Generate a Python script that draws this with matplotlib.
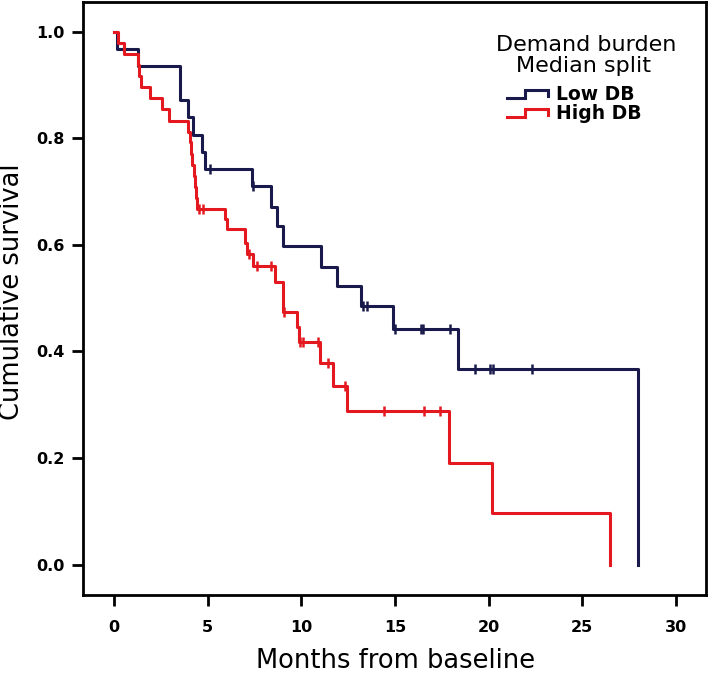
"""
Kaplan-Meier: выживаемость по demand burden (медианное разбиение)
"""

import numpy as np
import matplotlib
matplotlib.use("Agg")
import matplotlib.pyplot as plt
from matplotlib.lines import Line2D
from matplotlib.legend_handler import HandlerBase

# Low DB: моменты событий и уровни выживаемости (steps-post)
low_times = [0.0, 0.15, 1.26, 3.52, 3.93, 4.22, 4.68, 4.85, 7.35, 8.40, 8.68,
             9.00, 11.03, 11.89, 13.20, 14.92, 18.35, 28.0]
low_surv = [1.0, 0.968, 0.935, 0.871, 0.839, 0.806, 0.774, 0.742, 0.710, 0.671,
            0.635, 0.598, 0.559, 0.522, 0.485, 0.442, 0.367, 0.0]
low_censor = [5.10, 7.42, 13.28, 13.49, 14.98, 16.37, 16.49, 17.94, 19.27,
              20.06, 20.23, 22.33]

# High DB
high_times = [0.0, 0.23, 0.55, 1.29, 1.35, 1.45, 1.92, 2.58, 2.95, 3.96, 4.03,
              4.10, 4.17, 4.24, 4.31, 4.38, 4.45, 5.92, 6.05, 6.97, 7.12, 7.44,
              8.58, 9.02, 9.75, 9.88, 11.02, 11.71, 12.42, 17.87, 20.16, 26.5]
high_surv = [1.0, 0.979, 0.958, 0.938, 0.917, 0.896, 0.875, 0.854, 0.833, 0.812,
             0.792, 0.771, 0.750, 0.729, 0.708, 0.688, 0.667, 0.648, 0.629, 0.604,
             0.583, 0.560, 0.530, 0.473, 0.445, 0.417, 0.379, 0.336, 0.289, 0.191,
             0.096, 0.0]
high_censor = [4.52, 4.75, 7.20, 7.62, 8.40, 9.08, 9.95, 10.08, 10.91, 11.44,
               12.35, 14.39, 16.54, 17.38]

x_ticks = [0, 5, 10, 15, 20, 25, 30]
y_ticks = [0.0, 0.2, 0.4, 0.6, 0.8, 1.0]

NAVY = "#191a4b"
RED = "#e3191f"


def surv_at(times, surv, t):
    i = np.searchsorted(times, t, side="right") - 1
    return np.asarray(surv)[i]


class StepHandler(HandlerBase):
    # значок легенды в виде ступеньки
    def create_artists(self, legend, orig_handle, xdescent, ydescent,
                       width, height, fontsize, trans):
        lo = -ydescent + height * 0.15
        hi = -ydescent + height * 0.75
        x0 = -xdescent
        xs = [x0, x0 + 0.44 * width, x0 + 0.44 * width, x0 + width, x0 + width]
        ys = [lo, lo, hi, hi, lo + 0.25 * (hi - lo)]
        line = Line2D(xs, ys, color=orig_handle.get_color(),
                      lw=orig_handle.get_linewidth(), solid_joinstyle="miter",
                      transform=trans)
        return [line]


fig = plt.figure(figsize=(7.09, 6.75), dpi=100)
ax = fig.add_axes([82.7 / 709, 1 - 594.5 / 675, 623 / 709, 592.8 / 675])

l1, = ax.plot(low_times, low_surv, drawstyle="steps-post", color=NAVY, lw=2.2)
l2, = ax.plot(high_times, high_surv, drawstyle="steps-post", color=RED, lw=2.2)

ax.plot(low_censor, surv_at(low_times, low_surv, low_censor), ls="none",
        marker="|", ms=6.5, mew=1.8, color=NAVY)
ax.plot(high_censor, surv_at(high_times, high_surv, high_censor), ls="none",
        marker="|", ms=6.5, mew=1.8, color=RED)

ax.set_xlim(-1.68, 31.6)
ax.set_ylim(-0.056, 1.056)
ax.set_xticks(x_ticks)
ax.set_yticks(y_ticks)
ax.set_xticklabels([str(v) for v in x_ticks])
ax.set_yticklabels([f"{v:.1f}" for v in y_ticks])
for lab in ax.get_xticklabels() + ax.get_yticklabels():
    lab.set_fontweight("bold")
    lab.set_fontsize(11.5)
ax.tick_params(axis="both", direction="out", length=8, width=2)
ax.tick_params(axis="x", pad=10.5)
ax.tick_params(axis="y", pad=5)
for sp in ax.spines.values():
    sp.set_linewidth(2)

fig.text(12.5 / 709, 1 - 291.5 / 675, "Cumulative survival", rotation=90,
         ha="center", va="center", fontsize=18.5)
fig.text(395.5 / 709, 1 - 661 / 675, "Months from baseline",
         ha="center", va="center", fontsize=18.5)

# заголовок легенды
fig.text(586 / 709, 1 - 45 / 675, "Demand burden", ha="center", va="center",
         fontsize=16)
fig.text(584 / 709, 1 - 66 / 675, "Median split", ha="center", va="center",
         fontsize=16)

ax.legend([l1, l2], ["Low DB", "High DB"], loc="upper left",
          bbox_to_anchor=(506.7 / 709, 1 - 85 / 675),
          bbox_transform=fig.transFigure, frameon=False, borderpad=0,
          borderaxespad=0, handlelength=2.2, handletextpad=0.45,
          labelspacing=0.0, prop={"weight": "bold", "size": 13.5},
          handler_map={Line2D: StepHandler()})

plt.savefig("out.png", dpi=100)
